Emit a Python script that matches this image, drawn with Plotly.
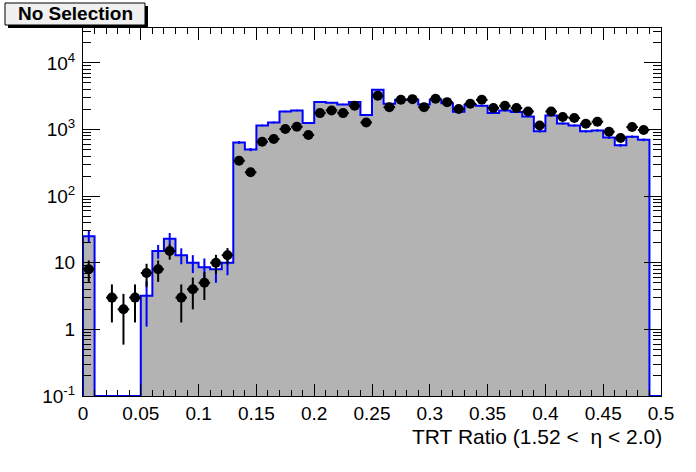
import numpy as np
import plotly.graph_objects as go

# ---------------- data ----------------
bin_width = 0.01
n_bins = 50

mc_values = [25, 0, 0, 0, 0, 3.2, 15, 23, 13, 10,
             8.6, 8.0, 10, 640, 500, 1150, 1280, 1870, 1930, 1250,
             2600, 2520, 2380, 2600, 1650, 3950, 2430, 2790, 2790, 2380,
             2790, 2480, 1850, 2350, 2270, 1770, 1930, 1830, 1570, 940,
             1630, 1230, 1150, 940, 970, 760, 580, 780, 700, 0]
mc_errors = [5, 0, 0, 0, 0, 2.1, 3.5, 5, 3.5, 3,
             3, 3, 3.5, 30, 27, 40, 43, 52, 53, 42,
             61, 60, 58, 61, 49, 75, 59, 63, 63, 58,
             63, 60, 52, 58, 57, 50, 53, 51, 48, 37,
             48, 42, 41, 37, 37, 33, 29, 34, 32, 0]

data_values = [8, None, 3, 2, 3, 7, 8, 15, 3, 4,
               5, 10, 13, 340, 228, 656, 720, 1016, 1100, 828,
               1765, 1933, 1765, 2270, 1277, 3206, 2168, 2793, 2858, 2168,
               2891, 2575, 2028, 2433, 2793, 2100, 2270, 2100, 1866, 1150,
               1866, 1538, 1486, 1221, 1310, 927, 746, 1089, 984, None]
data_errors = [2.83, 0, 1.73, 1.41, 1.73, 2.65, 2.83, 3.87, 1.73, 2.0,
               2.24, 3.16, 3.61, 18.4, 15.1, 25.6, 26.8, 31.9, 33.2, 28.8,
               42.0, 44.0, 42.0, 47.6, 35.7, 56.6, 46.6, 52.8, 53.5, 46.6,
               53.8, 50.7, 45.0, 49.3, 52.8, 45.8, 47.6, 45.8, 43.2, 33.9,
               43.2, 39.2, 38.5, 34.9, 36.2, 30.4, 27.3, 33.0, 31.4, 0]

x_tick_vals = [0, 0.05, 0.1, 0.15, 0.2, 0.25, 0.3, 0.35, 0.4, 0.45, 0.5]
y_tick_vals = [0.1, 1, 10, 100, 1000, 10000]
y_tick_text = ["10<sup>-1</sup>", "1", "10", "10<sup>2</sup>", "10<sup>3</sup>", "10<sup>4</sup>"]

x_title = "TRT Ratio (1.52 <  \u03b7 < 2.0)"
label_text = "No Selection"

# ---------------- geometry ----------------
W, H = 696, 472
ML, MR, MT, MB = 83, 35, 28, 76
PW, PH = W - ML - MR, H - MT - MB
y_log_range = [-1, 4.524]
floor_val = 10 ** y_log_range[0]

def px_x(p):
    return (p - ML) / PW

def px_y(p):
    return (H - MB - p) / PH

edges = np.round(np.arange(n_bins + 1) * bin_width, 4)
centers = np.round(edges[:-1] + bin_width / 2, 4)

FONT = "Liberation Sans, Arial, Helvetica, sans-serif"

fig = go.Figure()

# MC filled histogram
mc_bar = [v if v > 0 else None for v in mc_values]
fig.add_trace(go.Bar(
    x=centers, y=mc_bar, width=bin_width,
    marker=dict(color="#b3b3b3", line=dict(width=0)),
    showlegend=False, hoverinfo="skip"))

# MC outline (step)
step_y = [v if v > 0 else floor_val for v in mc_values]
sx = [0.0] + list(edges[:-1]) + [edges[-1]]
sy = [floor_val] + step_y + [step_y[-1]]
fig.add_trace(go.Scatter(
    x=sx, y=sy, mode="lines", line=dict(color="#0000ff", width=2, shape="hv"),
    showlegend=False, hoverinfo="skip"))

# MC error bars
mc_err_x = [c for c, v in zip(centers, mc_values) if v > 0]
mc_err_y = [v for v in mc_values if v > 0]
mc_err_e = [e for e, v in zip(mc_errors, mc_values) if v > 0]
fig.add_trace(go.Scatter(
    x=mc_err_x, y=mc_err_y, mode="markers",
    marker=dict(size=1, color="rgba(0,0,255,0)"),
    error_y=dict(type="data", array=mc_err_e, color="#0000ff", thickness=2, width=0),
    showlegend=False, hoverinfo="skip"))

# Data points
dx = [c for c, v in zip(centers, data_values) if v is not None]
dy = [v for v in data_values if v is not None]
de = [e for e, v in zip(data_errors, data_values) if v is not None]
fig.add_trace(go.Scatter(
    x=dx, y=dy, mode="markers",
    marker=dict(symbol="circle", size=10, color="black"),
    error_y=dict(type="data", array=de, color="black", thickness=2, width=0),
    error_x=dict(type="constant", value=bin_width / 2, color="black", thickness=2, width=0),
    showlegend=False))

fig.update_layout(
    width=W, height=H,
    margin=dict(l=ML, r=MR, t=MT, b=MB, pad=0),
    paper_bgcolor="white", plot_bgcolor="white",
    bargap=0,
    font=dict(family=FONT, size=19, color="black"),
    xaxis=dict(
        range=[0, 0.5], tickmode="array", tickvals=x_tick_vals,
        ticks="inside", ticklen=12, tickwidth=1, tickcolor="black",
        minor=dict(dtick=bin_width, tick0=0, ticks="inside", ticklen=6,
                   tickwidth=1, tickcolor="black", showgrid=False),
        showline=True, linecolor="black", linewidth=1, mirror="ticks",
        showgrid=False, zeroline=False,
        tickfont=dict(family=FONT, size=19),
    ),
    yaxis=dict(
        type="log", range=y_log_range, tickmode="array",
        tickvals=y_tick_vals, ticktext=y_tick_text,
        ticks="inside", ticklen=17, tickwidth=1, tickcolor="black",
        minor=dict(dtick="D1", ticks="inside", ticklen=8,
                   tickwidth=1, tickcolor="black", showgrid=False),
        showline=True, linecolor="black", linewidth=1, mirror="ticks",
        showgrid=False, zeroline=False,
        ticklabelstandoff=3,
        tickfont=dict(family=FONT, size=19),
    ),
)

# x-axis title (right aligned, ROOT style)
fig.add_annotation(
    x=px_x(664), y=px_y(436), xref="paper", yref="paper",
    xanchor="right", yanchor="middle", showarrow=False,
    text=x_title, font=dict(family=FONT, size=21, color="black"))

# "No Selection" pave with shadow
fig.add_shape(type="rect", xref="paper", yref="paper",
              x0=px_x(8), x1=px_x(148), y0=px_y(28), y1=px_y(6),
              fillcolor="black", line=dict(width=0), layer="above")
fig.add_shape(type="rect", xref="paper", yref="paper",
              x0=px_x(5), x1=px_x(145), y0=px_y(25), y1=px_y(3),
              fillcolor="#f0f0f0", line=dict(color="black", width=1), layer="above")
fig.add_annotation(
    x=px_x(75), y=px_y(14), xref="paper", yref="paper",
    xanchor="center", yanchor="middle", showarrow=False,
    text="<b>" + label_text + "</b>", font=dict(family=FONT, size=19, color="black"))

fig.write_html("out.html", config={"displayModeBar": False},
               post_script="document.body.style.margin='0';")
